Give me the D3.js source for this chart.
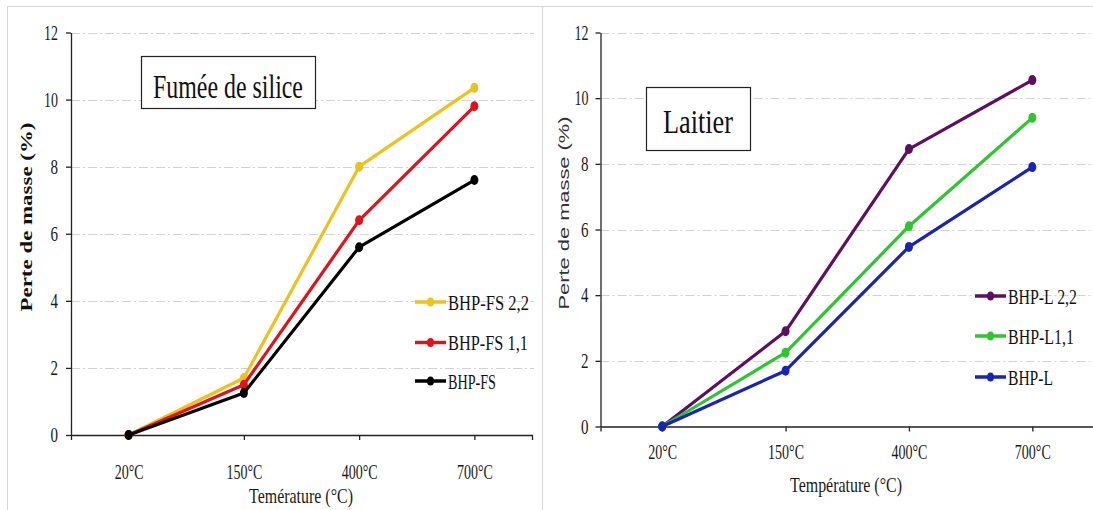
<!DOCTYPE html>
<html>
<head>
<meta charset="utf-8">
<script src="https://cdn.jsdelivr.net/npm/d3@7"></script>
<style>
  body { margin: 0; background: #fff; }
  svg { display: block; }
</style>
</head>
<body>
<svg id="chart" width="1093" height="510"></svg>
<script>
const temps = ['20°C', '150°C', '400°C', '700°C'];
const yTicks = [0, 2, 4, 6, 8, 10, 12];

const fsNames = ['BHP-FS 2,2', 'BHP-FS 1,1', 'BHP-FS'];
const fs22 = [0, 1.7, 8.0, 10.35];
const fs11 = [0, 1.5, 6.4, 9.8];
const fs = [0, 1.25, 5.6, 7.6];
const fsColors = ['#efc11d', '#e2121b', '#000000'];

const lNames = ['BHP-L 2,2', 'BHP-L1,1', 'BHP-L'];
const l22 = [0, 2.9, 8.45, 10.55];
const l11 = [0, 2.25, 6.1, 9.4];
const l0 = [0, 1.7, 5.47, 7.9];
const lColors = ['#5e1060', '#2ec52e', '#1a24b4'];

const SERIF = 'Liberation Serif';
const svg = d3.select('#chart');

// the picture is squeezed sideways: scale each text to the width it has there
function fit(sel, wFn, x0 = 0, y0 = 0) {
  sel.each(function(d, i) {
    const t = d3.select(this).attr('x', 0);
    const w = this.getComputedTextLength();
    const sx = wFn(d, i) / w;
    const tx = typeof x0 === 'function' ? x0(d, i) : x0;
    const ty = typeof y0 === 'function' ? y0(d, i) : y0;
    t.attr('transform', `translate(${tx},${ty}) scale(${sx},1)`);
  });
}

// panel frames
const frame = svg.append('g').attr('stroke', '#d6d6d6').attr('stroke-width', 1);
frame.append('line').attr('x1', 7).attr('x2', 1093).attr('y1', 6.5).attr('y2', 6.5);
frame.append('line').attr('x1', 7.5).attr('x2', 7.5).attr('y1', 6.5).attr('y2', 510);
frame.append('line').attr('x1', 542.5).attr('x2', 542.5).attr('y1', 6.5).attr('y2', 510);

function drawPanel(p) {
  const g = svg.append('g');
  const x = d3.scalePoint().domain(temps).range([p.x0, p.x1]).padding(0.5);
  const y = d3.scaleLinear().domain([0, 12]).range([p.yBot, p.yTop]);

  // grid
  g.append('g').selectAll('line').data(yTicks.filter(d => d > 0)).join('line')
    .attr('x1', p.x0).attr('x2', p.gridEnd)
    .attr('y1', d => Math.round(y(d)) + 0.5).attr('y2', d => Math.round(y(d)) + 0.5)
    .attr('stroke', '#d2d2d2').attr('stroke-width', 1)
    .attr('stroke-dasharray', '9,3,2,3');

  const xAxisG = g.append('g')
    .attr('transform', `translate(0,${p.yBot})`)
    .call(d3.axisBottom(x).tickSize(5).tickSizeOuter(5));
  const yAxisG = g.append('g')
    .attr('transform', `translate(${p.x0},0)`)
    .call(d3.axisLeft(y).tickValues(yTicks).tickSize(5).tickSizeOuter(0));
  [xAxisG, yAxisG].forEach(a => {
    a.selectAll('path, line').attr('stroke', '#222').attr('stroke-width', 1.3);
    a.selectAll('text').attr('font-family', SERIF).attr('fill', '#1a1a1a');
  });
  xAxisG.selectAll('text').attr('font-size', 21).attr('dy', null).attr('y', 0)
    .call(fit, d => d.length === 4 ? 29 : 36, 0, p.xTickY);
  yAxisG.selectAll('text').attr('font-size', 20).attr('dy', '0.33em')
    .call(fit, d => String(d).length === 2 ? 14 : 7.5, -p.yPad, 0);

  // x title
  g.append('text').attr('font-family', SERIF).attr('font-size', 22).attr('fill', '#1a1a1a')
    .attr('text-anchor', 'middle').text(p.xTitle)
    .call(fit, () => p.xTitleW, p.xTitleX, p.xTitleY);

  // y title
  g.append('text')
    .attr('transform', `translate(${p.yTitleX},${p.yTitleY}) scale(0.72,1) rotate(-90)`)
    .attr('text-anchor', 'middle').attr('dy', '0.35em')
    .attr('font-size', p.yTitleSize)
    .attr('font-weight', p.yTitleBold ? 'bold' : 'normal')
    .attr('font-family', p.yTitleFont)
    .attr('fill', p.yTitleColor)
    .attr('textLength', p.yTitleLen).attr('lengthAdjust', 'spacingAndGlyphs')
    .text('Perte de masse (%)');

  // title box
  g.append('rect')
    .attr('x', p.box[0] + 0.5).attr('y', p.box[1] + 0.5)
    .attr('width', p.box[2]).attr('height', p.box[3])
    .attr('fill', '#fff').attr('stroke', '#222').attr('stroke-width', 1.2);
  g.append('text').attr('font-family', SERIF).attr('font-size', 34).attr('fill', '#111')
    .attr('text-anchor', 'middle').text(p.title)
    .call(fit, () => p.titleW, p.box[0] + p.box[2] / 2, p.titleY);

  // series
  const line = d3.line().x((d, i) => x(temps[i])).y(d => y(d));
  p.series.forEach((s, k) => {
    const c = p.colors[k];
    g.append('path').datum(s).attr('d', line)
      .attr('fill', 'none').attr('stroke', c).attr('stroke-width', 3.2)
      .attr('stroke-linejoin', 'round');
    g.append('g').selectAll('ellipse').data(s).join('ellipse')
      .attr('cx', (d, i) => x(temps[i])).attr('cy', d => y(d))
      .attr('rx', 4).attr('ry', 5).attr('fill', c);
  });

  // legend
  const lg = g.append('g').selectAll('g').data(p.names).join('g')
    .attr('transform', (d, i) => `translate(${p.legX},${p.legY[i]})`);
  lg.append('line').attr('x1', 0).attr('x2', 31)
    .attr('stroke', (d, i) => p.colors[i]).attr('stroke-width', 3.5);
  lg.append('ellipse').attr('cx', 15.5).attr('rx', 3.5).attr('ry', 4.5)
    .attr('fill', (d, i) => p.colors[i]);
  lg.append('text').attr('font-family', SERIF).attr('font-size', 22).attr('fill', '#111')
    .text(d => d)
    .call(fit, (d, i) => p.legW[i], 33, 7.5);
}

drawPanel({
  x0: 71, x1: 532, yTop: 32.5, yBot: 435, gridEnd: 534, yPad: 13, xTickY: 44,
  xTitle: 'Temérature (°C)', xTitleX: 301, xTitleY: 503, xTitleW: 104,
  yTitleX: 26, yTitleY: 217, yTitleSize: 22, yTitleBold: true,
  yTitleFont: SERIF, yTitleColor: '#111', yTitleLen: 189,
  box: [141, 56, 174, 52], title: 'Fumée de silice', titleY: 98, titleW: 150,
  series: [fs22, fs11, fs], colors: fsColors, names: fsNames,
  legX: 415, legY: [302, 342.5, 381], legW: [81, 80, 48]
});

drawPanel({
  x0: 600.5, x1: 1094, yTop: 32.5, yBot: 426.5, gridEnd: 1093, yPad: 12, xTickY: 32,
  xTitle: 'Température (°C)', xTitleX: 846, xTitleY: 492, xTitleW: 112,
  yTitleX: 564, yTitleY: 213, yTitleSize: 21, yTitleBold: false,
  yTitleFont: 'Liberation Sans', yTitleColor: '#333', yTitleLen: 193,
  box: [646, 87, 104, 63], title: 'Laitier', titleY: 133, titleW: 70,
  series: [l22, l11, l0], colors: lColors, names: lNames,
  legX: 975, legY: [296, 336, 377], legW: [69, 66, 45]
});
</script>
</body>
</html>
